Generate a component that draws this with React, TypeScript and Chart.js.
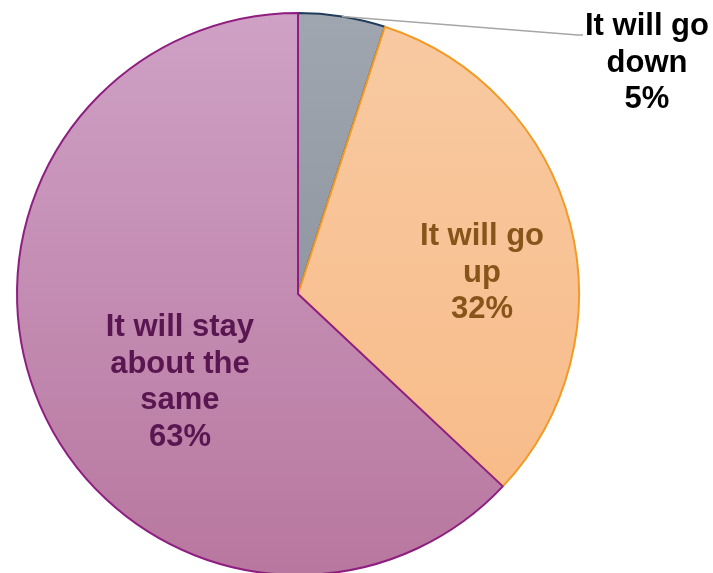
import React, { useEffect, useRef } from "react";
import { Chart, registerables } from "chart.js";

Chart.register(...registerables);

const categories = ["It will go down", "It will go up", "It will stay about the same"];
const values = [5, 32, 63];
const labelLines = [["It will go", "down"], ["It will go", "up"], ["It will stay", "about the", "same"]];
const percentLabels = ["5%", "32%", "63%"];

const gradTop = ["#A0A6AF", "#F8CAA2", "#CFA1C5"];
const gradBottom = ["#808996", "#F8B985", "#B8779F"];
const borderColors = ["#1F3B5C", "#F29A25", "#8E1E80"];
const textColors = ["#000000", "#87541A", "#5A1650"];

const FONT = "bold 31px 'Liberation Sans', Arial, sans-serif";
const LINE_H = 36.5;

const labelPlugin = {
  id: "sliceLabels",
  afterDatasetsDraw(chart: any) {
    const ctx = chart.ctx;
    const meta = chart.getDatasetMeta(0);
    const place = [
      { outside: true, ex: 280, ey: -259, tail: 5, tx: 349, ty: -233.5 },
      { outside: false, frac: 0.563, r: 0.66 },
      { outside: false, frac: 0.444, r: 0.52 },
    ];
    ctx.save();
    ctx.font = FONT;
    ctx.textAlign = "center";
    ctx.textBaseline = "alphabetic";
    meta.data.forEach((arc: any, i: number) => {
      const p: any = place[i];
      const lines = [...labelLines[i], percentLabels[i]];
      const R = arc.outerRadius;
      let cx: number, cy: number;
      if (p.outside) {
        const mid = (arc.startAngle + arc.endAngle) / 2;
        const sx = arc.x + Math.cos(mid) * R;
        const sy = arc.y + Math.sin(mid) * R;
        const ex = arc.x + p.ex;
        const ey = arc.y + p.ey;
        ctx.beginPath();
        ctx.strokeStyle = "#A6A6A6";
        ctx.lineWidth = 1.5;
        ctx.moveTo(sx, sy);
        ctx.lineTo(ex, ey);
        ctx.lineTo(ex + p.tail, ey);
        ctx.stroke();
        cx = arc.x + p.tx;
        cy = arc.y + p.ty;
      } else {
        const a = arc.startAngle + (arc.endAngle - arc.startAngle) * p.frac;
        cx = arc.x + Math.cos(a) * R * p.r;
        cy = arc.y + Math.sin(a) * R * p.r;
      }
      ctx.fillStyle = textColors[i];
      const n = lines.length;
      lines.forEach((t, k) => {
        const lc = cy + (k - (n - 1) / 2) * LINE_H;
        ctx.fillText(t, cx, lc + 11);
      });
    });
    ctx.restore();
  },
};

export default function App() {
  const ref = useRef<HTMLCanvasElement>(null);
  useEffect(() => {
    if (!ref.current) return;
    const chart = new Chart(ref.current, {
      type: "pie",
      data: {
        labels: categories,
        datasets: [
          {
            data: values,
            backgroundColor: (c: any) => {
              const ch = c.chart;
              const ca = ch.chartArea;
              const i = c.dataIndex ?? 0;
              if (!ca) return gradTop[i];
              const g = ch.ctx.createLinearGradient(0, ca.top, 0, ca.bottom);
              g.addColorStop(0, gradTop[i]);
              g.addColorStop(1, gradBottom[i]);
              return g;
            },
            borderColor: borderColors,
            borderWidth: 2,
          },
        ],
      },
      options: {
        animation: false,
        responsive: true,
        maintainAspectRatio: false,
        layout: { padding: { left: 16, right: 133, top: 12, bottom: 24 } },
        plugins: { legend: { display: false }, tooltip: { enabled: false } },
      },
      plugins: [labelPlugin],
    });
    return () => chart.destroy();
  }, []);
  return (
    <div style={{ position: "absolute", left: 0, top: 0, width: 713, height: 573, overflow: "hidden", background: "#fff" }}>
      <div style={{ position: "relative", width: 713, height: 600 }}>
        <canvas ref={ref} />
      </div>
    </div>
  );
}
